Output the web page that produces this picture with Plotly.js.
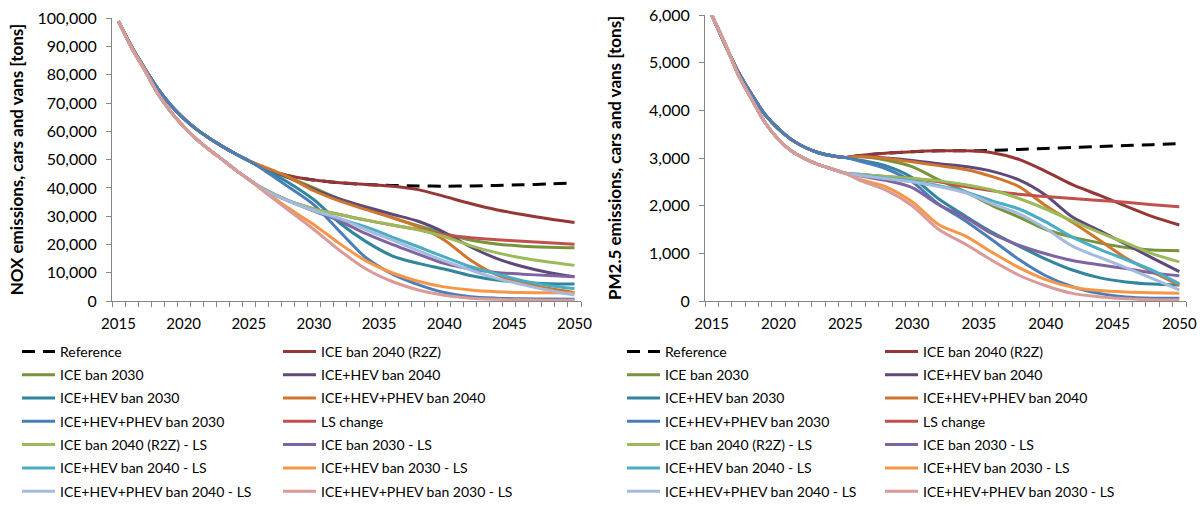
<!DOCTYPE html>
<html>
<head>
<meta charset="utf-8">
<script src="https://cdn.plot.ly/plotly-3.0.1.min.js"></script>
<style>
  html, body { margin: 0; padding: 0; background: #fff; }
  #chart { width: 1204px; height: 507px; }
</style>
</head>
<body>
<div id="chart"></div>
<script>
// Years: annual up to 2025, then every second year
const headYears = [2015, 2016, 2017, 2018, 2019, 2020, 2021, 2022, 2023, 2024, 2025];
const tailYears = [2026, 2028, 2030, 2032, 2034, 2036, 2038, 2040, 2042, 2044, 2046, 2048, 2050];

const scenarios = [
  'Reference', 'ICE ban 2040 (R2Z)',
  'ICE ban 2030', 'ICE+HEV ban 2040',
  'ICE+HEV ban 2030', 'ICE+HEV+PHEV ban 2040',
  'ICE+HEV+PHEV ban 2030', 'LS change',
  'ICE ban 2040 (R2Z) - LS', 'ICE ban 2030 - LS',
  'ICE+HEV ban 2040 - LS', 'ICE+HEV ban 2030 - LS',
  'ICE+HEV+PHEV ban 2040 - LS', 'ICE+HEV+PHEV ban 2030 - LS'
];

const colors = [
  '#000000', '#953735',
  '#77933C', '#5F497A',
  '#31859C', '#D0762C',
  '#4A7EBB', '#C0504D',
  '#9BBB59', '#8064A2',
  '#4BACC6', '#F79646',
  '#A5BBDD', '#D99A98'
];

// ---------- NOX emissions, cars and vans [tons] ----------
const noxFleetStart = [99000, 90000, 82300, 75200, 69300, 64600, 60700, 57500, 54600, 52000, 49600];
const noxLsStart    = [99000, 89600, 81800, 73500, 67000, 61700, 57200, 53400, 49900, 46300, 43000];

const noxReference     = [47300, 44300, 42800, 41800, 41200, 40900, 40700, 40600, 40700, 40900, 41100, 41400, 41800];
const noxIce2040R2Z    = [47300, 44300, 42800, 41800, 41200, 40600, 39400, 37000, 34500, 32300, 30600, 29100, 27800];
const noxIce2030       = [47200, 43800, 40000, 36000, 32700, 29500, 26600, 23900, 21600, 20200, 19400, 19000, 18800];
const noxIceHev2040    = [47300, 43700, 39500, 36000, 33300, 30700, 28200, 24300, 19200, 15100, 12200, 10100, 8600];
const noxIceHev2030    = [47200, 42000, 35800, 27500, 21000, 16000, 13300, 11300, 9000, 7400, 6600, 6100, 6000];
const noxIceHevPhev2040= [47800, 44000, 39000, 35300, 32300, 29500, 26300, 21600, 14500, 9300, 6300, 4500, 3000];
const noxIceHevPhev2030= [46800, 40500, 34000, 24500, 15300, 9600, 5800, 3000, 1500, 1000, 800, 700, 600];
const noxLsChange      = [40000, 35600, 32600, 30600, 28600, 26900, 25300, 23400, 22400, 21700, 21100, 20600, 20100];
const noxIce2040R2ZLs  = [40000, 35600, 32600, 30600, 28600, 26900, 25200, 22800, 19600, 17100, 15200, 13800, 12600];
const noxIce2030Ls     = [39800, 35500, 31800, 28300, 23800, 20000, 16600, 13300, 11300, 10100, 9500, 9000, 8600];
const noxIceHev2040Ls  = [39800, 35500, 32000, 29000, 26200, 22600, 19200, 15600, 12200, 9600, 7200, 5500, 4400];
const noxIceHev2030Ls  = [39600, 33000, 27000, 20200, 14200, 10000, 7000, 5000, 3900, 3300, 3000, 2900, 2800];
const noxIceHevPhev2040Ls = [39800, 35500, 32000, 29200, 25200, 21600, 17800, 14200, 11000, 8000, 5800, 3800, 2100];
const noxIceHevPhev2030Ls = [39300, 32300, 25300, 17800, 11300, 6900, 3900, 2000, 1000, 600, 400, 300, 300];

// ---------- PM2.5 emissions, cars and vans [tons] ----------
const pmFleetStart = [6000, 5380, 4800, 4330, 3910, 3610, 3380, 3220, 3110, 3045, 3010];
const pmLsStart    = [6000, 5400, 4740, 4230, 3740, 3390, 3140, 2980, 2860, 2770, 2680];

const pmReference      = [3050, 3100, 3130, 3150, 3150, 3160, 3180, 3200, 3220, 3240, 3260, 3280, 3300];
const pmIce2040R2Z     = [3050, 3100, 3130, 3150, 3150, 3110, 2970, 2720, 2440, 2220, 1990, 1770, 1595];
const pmIce2030        = [3030, 2960, 2820, 2540, 2290, 2000, 1760, 1500, 1340, 1220, 1120, 1070, 1056];
const pmIceHev2040     = [3030, 3000, 2950, 2880, 2820, 2720, 2540, 2220, 1760, 1480, 1190, 900, 615];
const pmIceHev2030     = [2960, 2840, 2590, 2140, 1780, 1440, 1150, 880, 650, 490, 400, 355, 336];
const pmIceHevPhev2040 = [3030, 2990, 2920, 2840, 2760, 2610, 2400, 2000, 1650, 1280, 900, 610, 330];
const pmIceHevPhev2030 = [2940, 2780, 2500, 2030, 1680, 1280, 870, 530, 300, 160, 85, 60, 56];
const pmLsChange       = [2660, 2610, 2570, 2500, 2400, 2310, 2240, 2190, 2150, 2110, 2070, 2020, 1975];
const pmIce2040R2ZLs   = [2660, 2610, 2570, 2520, 2440, 2330, 2150, 1930, 1680, 1440, 1220, 990, 820];
const pmIce2030Ls      = [2630, 2530, 2380, 2020, 1750, 1410, 1170, 990, 850, 760, 680, 590, 530];
const pmIceHev2040Ls   = [2650, 2580, 2520, 2420, 2290, 2100, 1930, 1660, 1340, 1090, 870, 640, 360];
const pmIceHev2030Ls   = [2560, 2400, 2080, 1600, 1360, 1020, 700, 450, 290, 220, 190, 175, 165];
const pmIceHevPhev2040Ls = [2640, 2570, 2500, 2400, 2270, 2040, 1830, 1520, 1150, 920, 700, 470, 235];
const pmIceHevPhev2030Ls = [2540, 2330, 2000, 1500, 1190, 850, 540, 320, 160, 90, 45, 25, 20];

const noxTails = [noxReference, noxIce2040R2Z, noxIce2030, noxIceHev2040, noxIceHev2030,
  noxIceHevPhev2040, noxIceHevPhev2030, noxLsChange, noxIce2040R2ZLs, noxIce2030Ls,
  noxIceHev2040Ls, noxIceHev2030Ls, noxIceHevPhev2040Ls, noxIceHevPhev2030Ls];
const pmTails = [pmReference, pmIce2040R2Z, pmIce2030, pmIceHev2040, pmIceHev2030,
  pmIceHevPhev2040, pmIceHevPhev2030, pmLsChange, pmIce2040R2ZLs, pmIce2030Ls,
  pmIceHev2040Ls, pmIceHev2030Ls, pmIceHevPhev2040Ls, pmIceHevPhev2030Ls];

const years = headYears.concat(tailYears);
const FONT = 'Lato, "Open Sans", sans-serif';
const AXIS_GREY = '#868686';

// first seven scenarios keep the current fleet start, the rest share the LS start
function buildTraces(tails, fleetStart, lsStart, xa, ya, legendIds) {
  return scenarios.map((name, i) => ({
    type: 'scatter',
    mode: 'lines',
    name: name,
    x: years,
    y: (i < 7 ? fleetStart : lsStart).concat(tails[i]),
    xaxis: xa,
    yaxis: ya,
    legend: legendIds[i % 2],
    legendgroup: xa + '-' + i,
    hoverinfo: 'skip',
    line: {
      color: colors[i],
      width: 3,
      shape: 'spline',
      smoothing: 0.8,
      dash: i === 0 ? '13px,8px' : 'solid'
    }
  }));
}

const traces = buildTraces(noxTails, noxFleetStart, noxLsStart, 'x', 'y', ['legend', 'legend2'])
  .concat(buildTraces(pmTails, pmFleetStart, pmLsStart, 'x2', 'y2', ['legend3', 'legend4']));

function xAxis(domain, anchor) {
  return {
    domain: domain,
    anchor: anchor,
    range: [2014.5, 2050.5],
    tickmode: 'linear', tick0: 2015, dtick: 5,
    ticks: 'outside', ticklen: 5, tickcolor: 'rgba(0,0,0,0)',
    ticklabelstandoff: 4,
    minor: { tickmode: 'linear', tick0: 2014.5, dtick: 1, ticks: 'outside', ticklen: 5, tickcolor: AXIS_GREY, showgrid: false },
    showline: true, linecolor: AXIS_GREY, linewidth: 1,
    showgrid: false, zeroline: false,
    tickfont: { family: FONT, size: 15, color: '#000' },
    fixedrange: true
  };
}

function yAxis(domain, anchor, max, step, title, standoff) {
  return {
    domain: domain,
    anchor: anchor,
    range: [0, max],
    tickmode: 'linear', tick0: 0, dtick: step,
    tickformat: ',d',
    ticks: 'outside', ticklen: 5, tickcolor: AXIS_GREY,
    ticklabelstandoff: 6,
    showline: true, linecolor: AXIS_GREY, linewidth: 1,
    showgrid: false, zeroline: false,
    tickfont: { family: FONT, size: 16, color: '#000' },
    title: { text: title, font: { family: FONT, size: 17, color: '#000', weight: 'bold' }, standoff: standoff },
    fixedrange: true
  };
}

// two legend columns per chart, kept inside the figure height
function legendAt(xPx) {
  return {
    orientation: 'v',
    x: xPx / 1204, xanchor: 'left',
    y: 1 - 335.8 / 507, yanchor: 'top',
    bgcolor: 'rgba(0,0,0,0)',
    borderwidth: 0,
    traceorder: 'grouped',
    tracegroupgap: 2.1,
    itemwidth: 33,
    font: { family: FONT, size: 14, color: '#000' }
  };
}

const layout = {
  width: 1204,
  height: 507,
  margin: { l: 0, r: 0, t: 0, b: 0 },
  paper_bgcolor: '#ffffff',
  plot_bgcolor: '#ffffff',
  font: { family: FONT, color: '#000' },
  showlegend: true,
  xaxis: xAxis([112 / 1204, 581 / 1204], 'y'),
  yaxis: yAxis([1 - 301 / 507, 1 - 18.3 / 507], 'x', 100000, 10000, 'NOX emissions, cars and vans [tons]', 9),
  xaxis2: xAxis([705 / 1204, 1186 / 1204], 'y2'),
  yaxis2: yAxis([1 - 301 / 507, 1 - 15 / 507], 'x2', 6000, 1000, 'PM2.5 emissions, cars and vans [tons]', 23),
  legend: legendAt(17),
  legend2: legendAt(278),
  legend3: legendAt(622),
  legend4: legendAt(880)
};

Plotly.newPlot('chart', traces, layout, { displayModeBar: false, staticPlot: true });
</script>
</body>
</html>
